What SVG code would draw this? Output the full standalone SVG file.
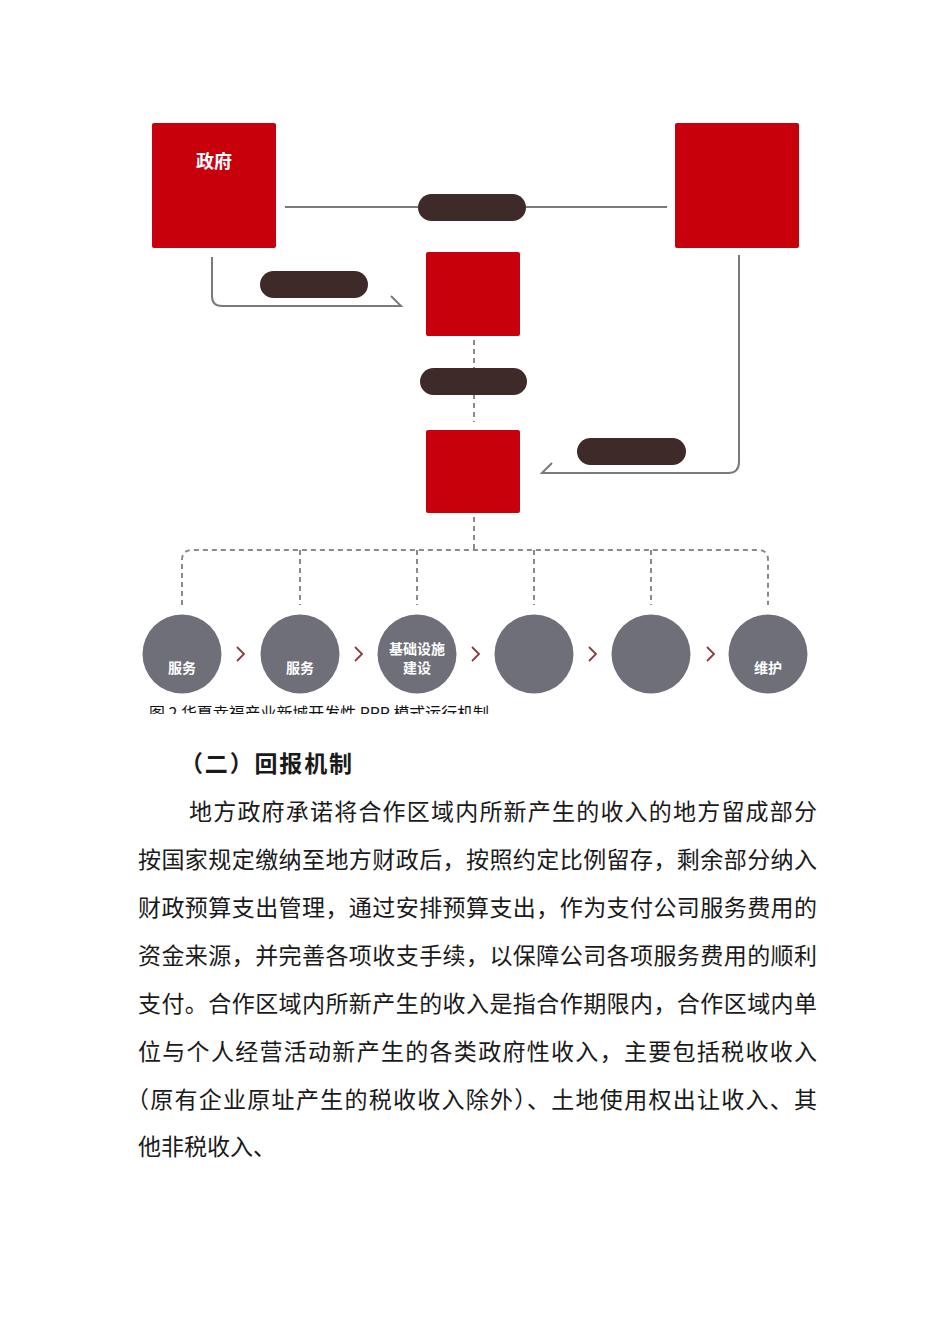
<svg xmlns="http://www.w3.org/2000/svg" width="950" height="1344" viewBox="0 0 950 1344">
<style>
.box{fill:#c8000c;}
.pill{fill:#3f2a2a;}
.ln{fill:none;stroke:#7a7a7a;stroke-width:2;}
.dash{fill:none;stroke:#8a8a8a;stroke-width:2;stroke-dasharray:5 4;}
.circ{fill:#6e6f79;}
.chev{fill:none;stroke:#8e3a3a;stroke-width:1.8;}
.wt{fill:#ffffff;font-family:"Noto Sans CJK SC",sans-serif;font-weight:bold;text-anchor:middle;}
.body{fill:#1a1a1a;font-family:"Noto Sans CJK SC",sans-serif;font-size:23px;}
.head{fill:#1a1a1a;font-family:"Noto Sans CJK SC",sans-serif;font-size:23px;font-weight:bold;}
.cap{fill:#111;font-family:"Noto Sans CJK SC",sans-serif;font-size:16px;}
</style>
<defs>
<clipPath id="capclip"><rect x="0" y="690" width="950" height="24"/></clipPath>
</defs>
<rect width="950" height="1344" fill="#ffffff"/>

<g id="connectors">
<line class="ln" x1="285" y1="207" x2="667" y2="207"/>
<path class="ln" d="M212 257 V296 Q212 306 222 306 H401 L391 296"/>
<path class="ln" d="M739 255 V462 Q739 473 728 473 H542 L552 463"/>
<line class="dash" x1="474" y1="340" x2="474" y2="422"/>
<path class="dash" d="M474 517 V550 M182 605 V560 Q182 550 192 550 H758 Q768 550 768 560 V605 M300 550 V605 M417 550 V605 M534 550 V605 M651 550 V605"/>
<rect class="pill" x="418" y="194" width="108" height="27" rx="13.5"/>
<rect class="pill" x="260" y="271" width="108" height="27" rx="13.5"/>
<rect class="pill" x="420" y="368" width="107" height="27" rx="13.5"/>
<rect class="pill" x="577" y="438" width="109" height="27" rx="13.5"/>
</g>

<g id="node-gov">
<rect class="box" x="152" y="123" width="124" height="125" rx="2"/>
<text class="wt" x="214" y="168" font-size="18">政府</text>
</g>
<g id="node-right">
<rect class="box" x="675" y="123" width="124" height="125" rx="2"/>
</g>
<g id="node-mid1">
<rect class="box" x="426" y="252" width="94" height="84" rx="2"/>
</g>
<g id="node-mid2">
<rect class="box" x="426" y="430" width="94" height="83" rx="2"/>
</g>

<g id="node-c1"><circle class="circ" cx="182" cy="654" r="39.5"/><text class="wt" x="182" y="673" font-size="14">服务</text></g>
<g id="node-c2"><circle class="circ" cx="300" cy="654" r="39.5"/><text class="wt" x="300" y="673" font-size="14">服务</text></g>
<g id="node-c3"><circle class="circ" cx="417" cy="654" r="39.5"/><text class="wt" x="417" y="654" font-size="14">基础设施</text><text class="wt" x="417" y="673" font-size="14">建设</text></g>
<g id="node-c4"><circle class="circ" cx="534" cy="654" r="39.5"/></g>
<g id="node-c5"><circle class="circ" cx="651" cy="654" r="39.5"/></g>
<g id="node-c6"><circle class="circ" cx="768" cy="654" r="39.5"/><text class="wt" x="768" y="673" font-size="14">维护</text></g>

<g id="chevrons">
<path class="chev" d="M237 647 L244 654 L237 661"/>
<path class="chev" d="M355 647 L362 654 L355 661"/>
<path class="chev" d="M472 647 L479 654 L472 661"/>
<path class="chev" d="M589 647 L596 654 L589 661"/>
<path class="chev" d="M707 647 L714 654 L707 661"/>
</g>

<g clip-path="url(#capclip)">
<text class="cap" x="149" y="719" textLength="340" lengthAdjust="spacingAndGlyphs">图 2 华夏幸福产业新城开发性 PPP 模式运行机制</text>
</g>

<text class="head" x="180" y="772" textLength="172" lengthAdjust="spacing">（二）回报机制</text>
<text class="body" x="189" y="820" textLength="628" lengthAdjust="spacing">地方政府承诺将合作区域内所新产生的收入的地方留成部分</text>
<text class="body" x="138" y="868" textLength="679" lengthAdjust="spacing">按国家规定缴纳至地方财政后，按照约定比例留存，剩余部分纳入</text>
<text class="body" x="138" y="916" textLength="679" lengthAdjust="spacing">财政预算支出管理，通过安排预算支出，作为支付公司服务费用的</text>
<text class="body" x="138" y="964" textLength="679" lengthAdjust="spacing">资金来源，并完善各项收支手续，以保障公司各项服务费用的顺利</text>
<text class="body" x="138" y="1012" textLength="679" lengthAdjust="spacing">支付。合作区域内所新产生的收入是指合作期限内，合作区域内单</text>
<text class="body" x="138" y="1060" textLength="679" lengthAdjust="spacing">位与个人经营活动新产生的各类政府性收入，主要包括税收收入</text>
<text class="body" x="126" y="1108" textLength="691" lengthAdjust="spacing">（原有企业原址产生的税收收入除外）、土地使用权出让收入、其</text>
<text class="body" x="138" y="1155">他非税收入、</text>
</svg>
